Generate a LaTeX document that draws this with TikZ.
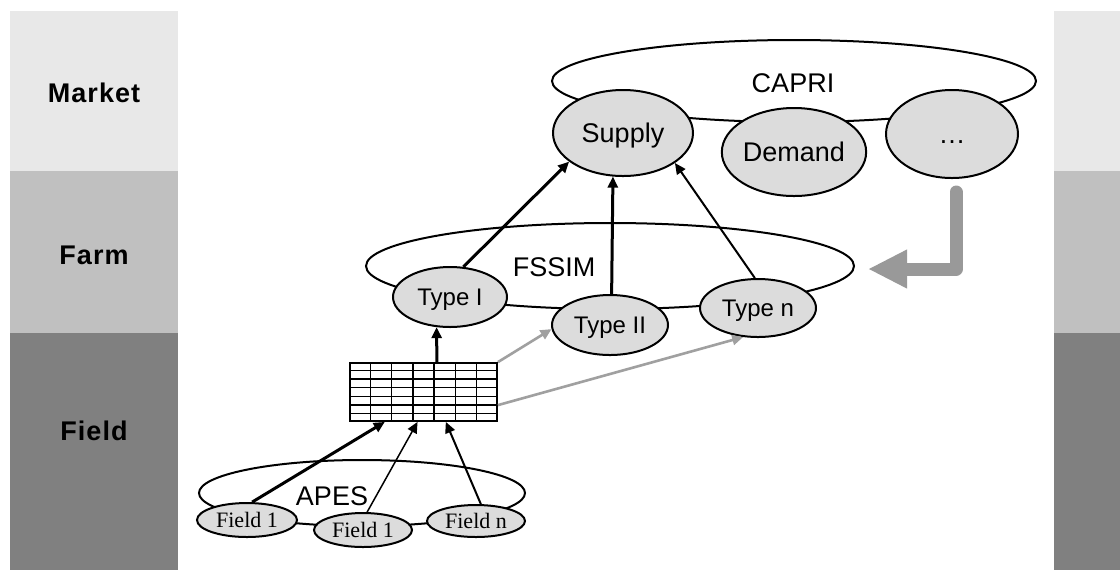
\documentclass[tikz,border=0pt]{standalone}
\usepackage{fontspec}
\setmainfont{Liberation Sans}
\newfontfamily\fieldserif{Liberation Serif}
\newfontfamily\bandfont[LetterSpace=4]{Liberation Sans}
\usetikzlibrary{shapes.geometric,arrows.meta,calc}
\definecolor{bandA}{HTML}{E8E8E8}
\definecolor{bandB}{HTML}{C0C0C0}
\definecolor{bandC}{HTML}{808080}
\definecolor{ellfill}{HTML}{DCDCDC}
\definecolor{arrgray}{HTML}{999999}
\definecolor{thingray}{HTML}{A0A0A0}
\tikzset{
  bigell/.style={ellipse, draw, line width=1pt, inner sep=0pt},
  subell/.style={ellipse, draw, fill=ellfill, line width=1pt, inner sep=0pt,
    font=\fontsize{13.5}{16}\selectfont, text height=9.7pt, text depth=0pt},
  typeell/.style={subell, font=\fontsize{12}{14}\selectfont, text height=8.6pt},
  fieldell/.style={subell, font=\fieldserif\fontsize{11}{13}\selectfont, text height=7.3pt},
  biglabel/.style={font=\fontsize{13.5}{16}\selectfont, inner sep=0pt, text height=9.7pt, text depth=0pt},
  bandlabel/.style={font=\bandfont\bfseries\fontsize{13.5}{16}\selectfont, inner sep=0pt},
  tblbox/.style={rectangle, draw, line width=0.9pt, inner sep=0pt, minimum width=73.5pt, minimum height=29pt},
  gridline/.style={line width=0.75pt},
  blk/.style={-{Triangle[length=5.5pt,width=5pt]}, black},
  grayarr/.style={-{Triangle[length=5.5pt,width=5pt]}, thingray, line width=1.3pt},
}
\begin{document}
\begin{tikzpicture}[x=0.5pt,y=-0.5pt]
\useasboundingbox (0,0) rectangle (1120,570);
\fill[white] (0,0) rectangle (1120,570);
% bands
\fill[bandA] (10,11) rectangle (178,171);
\fill[bandB] (10,171) rectangle (178,333);
\fill[bandC] (10,333) rectangle (178,570);
\fill[bandA] (1054,11) rectangle (1120,171);
\fill[bandB] (1054,171) rectangle (1120,333);
\fill[bandC] (1054,333) rectangle (1120,570);
\node[bandlabel] (lmarket) at (94,93) {Market};
\node[bandlabel] (lfarm) at (94,255) {Farm};
\node[bandlabel] (lfield) at (94,431) {Field};

% big ellipses
\node[bigell, minimum width=242pt, minimum height=41pt] (capri) at (794,81) {};
\node[bigell, minimum width=244pt, minimum height=43pt] (fssim) at (610,266) {};
\node[bigell, minimum width=163pt, minimum height=33pt] (apes) at (362,493) {};
\node[biglabel] (caprilabel) at (793,83) {CAPRI};
\node[biglabel] (fssimlabel) at (554,267) {FSSIM};
\node[biglabel] (apeslabel) at (332,496) {APES};

% market level
\node[subell, minimum width=70pt, minimum height=43pt] (supply) at (623,133) {Supply};
\node[subell, minimum width=66pt, minimum height=44pt] (demand) at (794,152) {Demand};
\node[subell, minimum width=66pt, minimum height=44pt] (dots) at (952,134) {\dots};

% farm level
\node[typeell, minimum width=57pt, minimum height=30pt] (typeI) at (450,297) {Type I};
\node[typeell, minimum width=58pt, minimum height=30pt] (typeII) at (610,325) {Type II};
\node[typeell, minimum width=58pt, minimum height=29pt] (typen) at (758,308) {Type n};

% table
\node[tblbox] (tbl) at (423.5,392) {};
\foreach \i in {1,...,6} {
  \draw[gridline] ($(tbl.south west)!\i/7!(tbl.south east)$) -- ($(tbl.north west)!\i/7!(tbl.north east)$);
  \draw[gridline] ($(tbl.north west)!\i/7!(tbl.south west)$) -- ($(tbl.north east)!\i/7!(tbl.south east)$);
}

% field level
\node[fieldell, minimum width=50pt, minimum height=17pt] (f1) at (247,520) {Field 1};
\node[fieldell, minimum width=49pt, minimum height=17pt] (f2) at (363,530) {Field 1};
\node[fieldell, minimum width=49pt, minimum height=16pt] (fn) at (476,521) {Field n};

% arrows to supply
\draw[blk, line width=1.5pt] (typeI.66) -- (supply.208);
\draw[blk, line width=1.5pt] (typeII.87) -- (supply.257);
\draw[blk, line width=1pt] (typen.96) -- (supply.330);

% arrows from table
\draw[blk, line width=1.5pt] ($(tbl.north west)!0.59!(tbl.north east)$) -- (typeI.246);
\draw[grayarr] (tbl.north east) -- (typeII.184);
\draw[grayarr] (tbl.-10) -- (typen.243);

% arrows from fields
\draw[blk, line width=1.5pt] (f1.74) -- ($(tbl.south west)!0.24!(tbl.south east)$);
\draw[blk, line width=0.75pt] (f2.77) -- ($(tbl.south west)!0.46!(tbl.south east)$);
\draw[blk, line width=1pt] (fn.74) -- ($(tbl.south west)!0.65!(tbl.south east)$);

% feedback arrow
\coordinate (fbstart) at (956,192);
\coordinate (fbcorner) at (956,269);
\coordinate (fbend) at (868,269);
\draw[arrgray, line width=6.5pt, line cap=round, line join=round,
  -{Triangle[length=19.5pt,width=18pt]}] (fbstart) -- (fbcorner) -- (fbend);
\end{tikzpicture}
\end{document}
